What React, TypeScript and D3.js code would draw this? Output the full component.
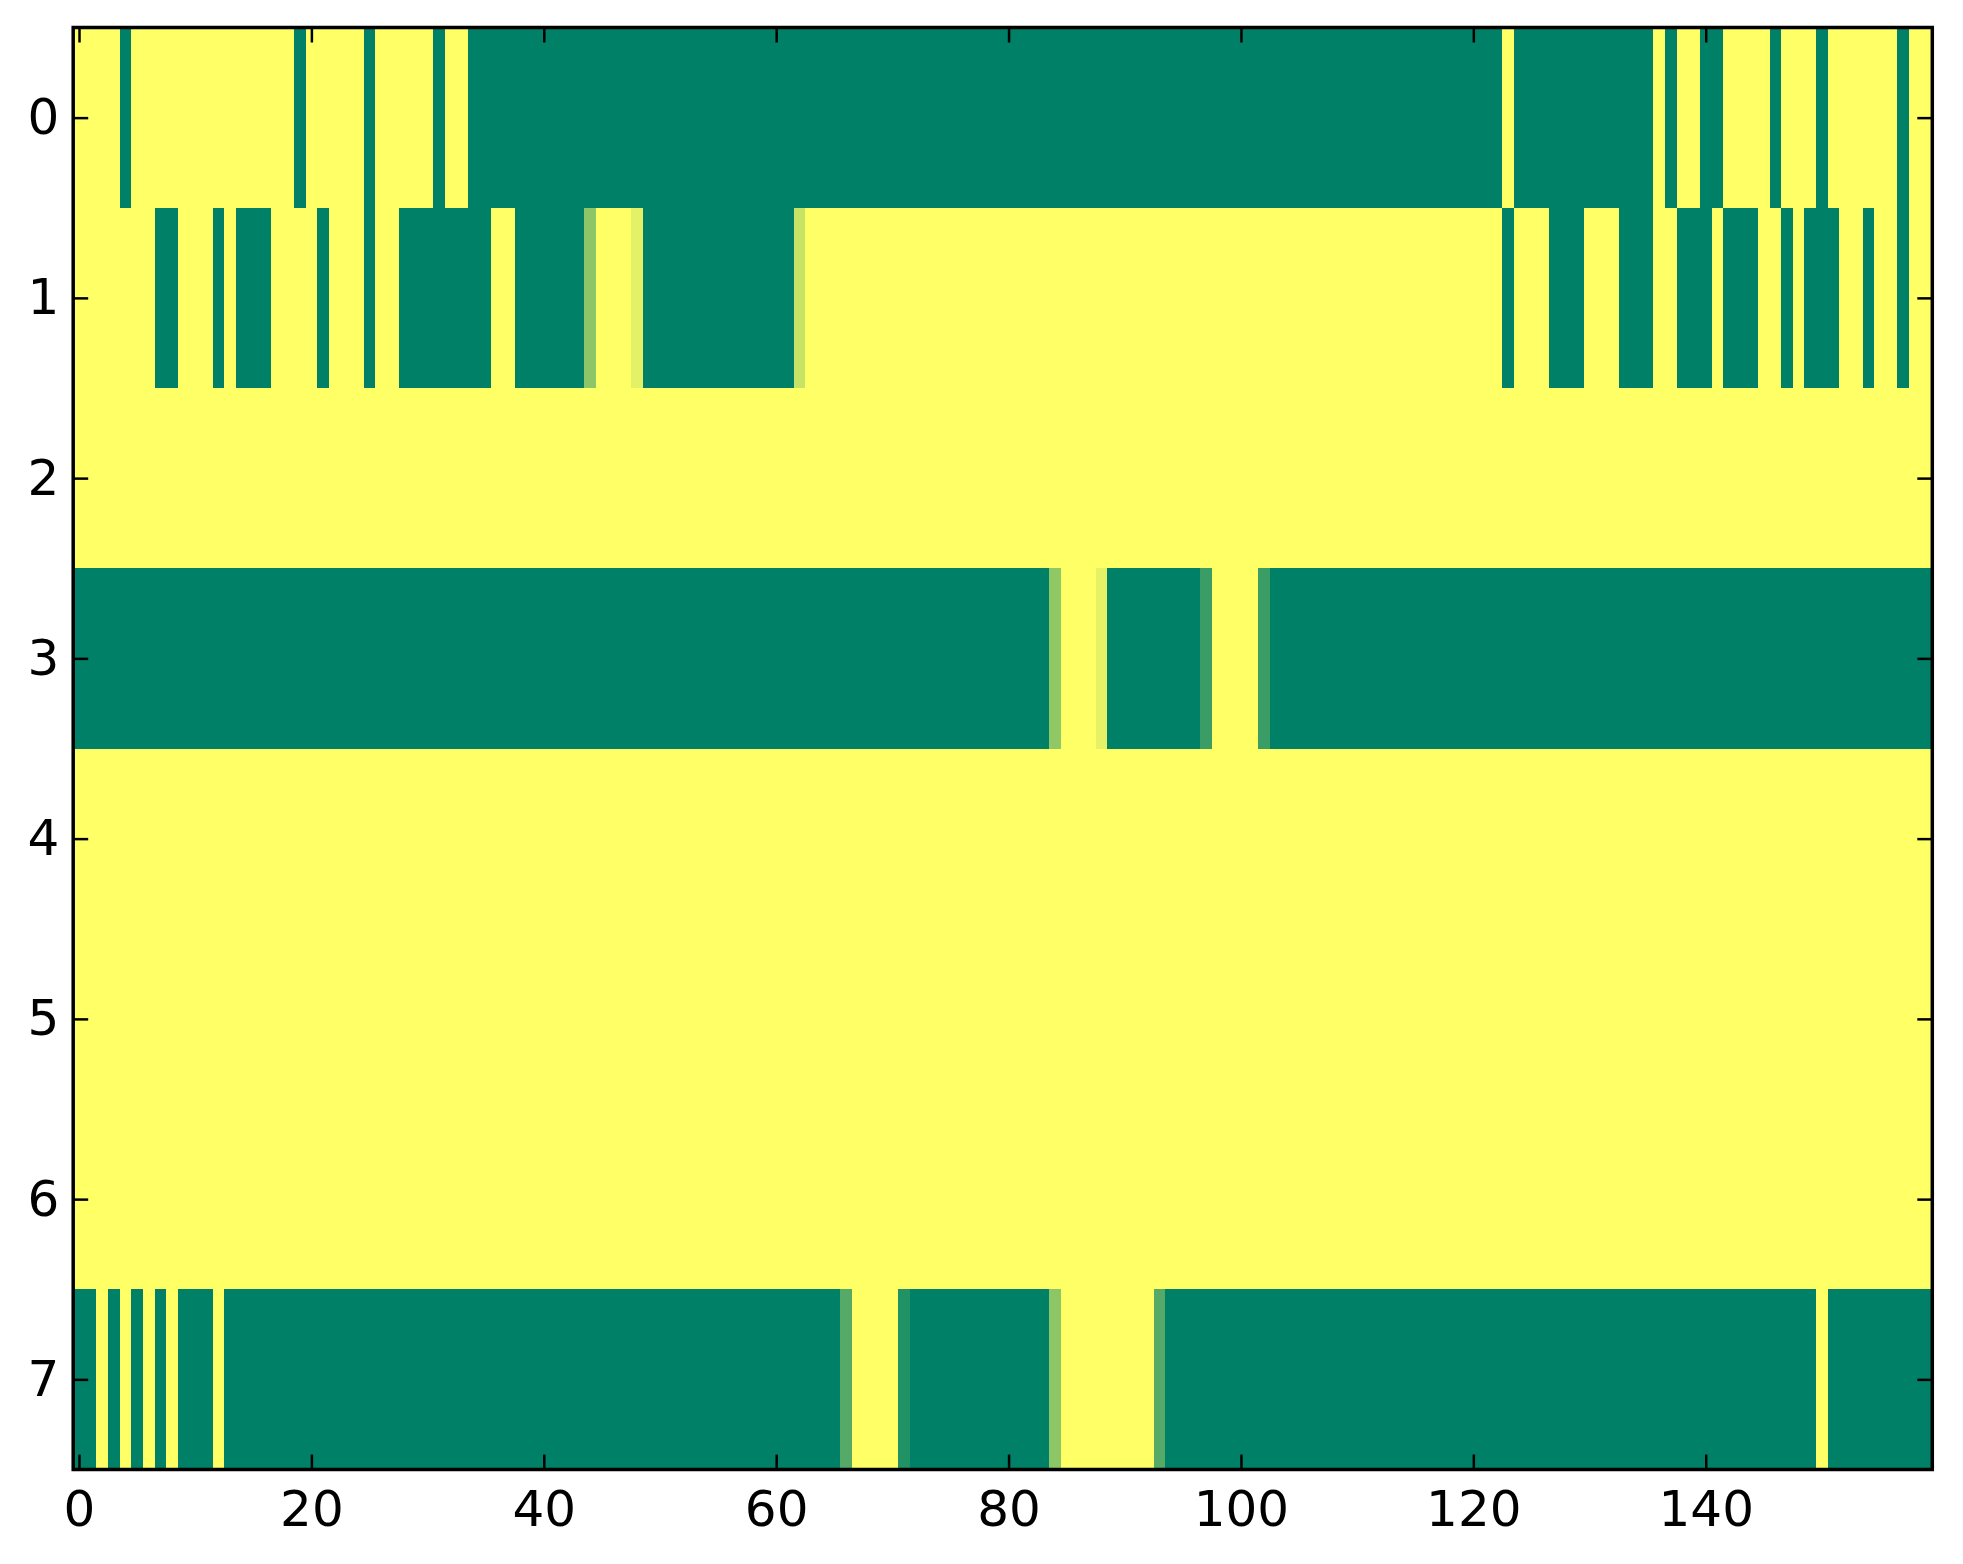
import * as React from 'react';
import * as d3 from 'd3';

// row / column labels on the axes
const rowTicks = [0, 1, 2, 3, 4, 5, 6, 7];
const colTicks = [0, 20, 40, 60, 80, 100, 120, 140];

// one array per image row, 160 columns each (0 = green end, 1 = yellow end)
const row0 = [
    1, 1, 1, 1, 0, 1, 1, 1, 1, 1, 1, 1, 1, 1, 1, 1, 1, 1, 1, 0,
    1, 1, 1, 1, 1, 0, 1, 1, 1, 1, 1, 0, 1, 1, 0, 0, 0, 0, 0, 0,
    0, 0, 0, 0, 0, 0, 0, 0, 0, 0, 0, 0, 0, 0, 0, 0, 0, 0, 0, 0,
    0, 0, 0, 0, 0, 0, 0, 0, 0, 0, 0, 0, 0, 0, 0, 0, 0, 0, 0, 0,
    0, 0, 0, 0, 0, 0, 0, 0, 0, 0, 0, 0, 0, 0, 0, 0, 0, 0, 0, 0,
    0, 0, 0, 0, 0, 0, 0, 0, 0, 0, 0, 0, 0, 0, 0, 0, 0, 0, 0, 0,
    0, 0, 0, 1, 0, 0, 0, 0, 0, 0, 0, 0, 0, 0, 0, 0, 1, 0, 1, 1,
    0, 0, 1, 1, 1, 1, 0, 1, 1, 1, 0, 1, 1, 1, 1, 1, 1, 0, 1, 1
];
const row1 = [
    1, 1, 1, 1, 1, 1, 1, 0, 0, 1, 1, 1, 0, 1, 0, 0, 0, 1, 1, 1,
    1, 0, 1, 1, 1, 0, 1, 1, 0, 0, 0, 0, 0, 0, 0, 0, 1, 1, 0, 0,
    0, 0, 0, 0, 0.55, 1, 1, 1, 0.89, 0, 0, 0, 0, 0, 0, 0, 0, 0, 0, 0,
    0, 0, 0.78, 1, 1, 1, 1, 1, 1, 1, 1, 1, 1, 1, 1, 1, 1, 1, 1, 1,
    1, 1, 1, 1, 1, 1, 1, 1, 1, 1, 1, 1, 1, 1, 1, 1, 1, 1, 1, 1,
    1, 1, 1, 1, 1, 1, 1, 1, 1, 1, 1, 1, 1, 1, 1, 1, 1, 1, 1, 1,
    1, 1, 1, 0, 1, 1, 1, 0, 0, 0, 1, 1, 1, 0, 0, 0, 1, 1, 0, 0,
    0, 1, 0, 0, 0, 1, 1, 0, 1, 0, 0, 0, 1, 1, 0, 1, 1, 0, 1, 1
];
const row2 = [
    1, 1, 1, 1, 1, 1, 1, 1, 1, 1, 1, 1, 1, 1, 1, 1, 1, 1, 1, 1,
    1, 1, 1, 1, 1, 1, 1, 1, 1, 1, 1, 1, 1, 1, 1, 1, 1, 1, 1, 1,
    1, 1, 1, 1, 1, 1, 1, 1, 1, 1, 1, 1, 1, 1, 1, 1, 1, 1, 1, 1,
    1, 1, 1, 1, 1, 1, 1, 1, 1, 1, 1, 1, 1, 1, 1, 1, 1, 1, 1, 1,
    1, 1, 1, 1, 1, 1, 1, 1, 1, 1, 1, 1, 1, 1, 1, 1, 1, 1, 1, 1,
    1, 1, 1, 1, 1, 1, 1, 1, 1, 1, 1, 1, 1, 1, 1, 1, 1, 1, 1, 1,
    1, 1, 1, 1, 1, 1, 1, 1, 1, 1, 1, 1, 1, 1, 1, 1, 1, 1, 1, 1,
    1, 1, 1, 1, 1, 1, 1, 1, 1, 1, 1, 1, 1, 1, 1, 1, 1, 1, 1, 1
];
const row3 = [
    0, 0, 0, 0, 0, 0, 0, 0, 0, 0, 0, 0, 0, 0, 0, 0, 0, 0, 0, 0,
    0, 0, 0, 0, 0, 0, 0, 0, 0, 0, 0, 0, 0, 0, 0, 0, 0, 0, 0, 0,
    0, 0, 0, 0, 0, 0, 0, 0, 0, 0, 0, 0, 0, 0, 0, 0, 0, 0, 0, 0,
    0, 0, 0, 0, 0, 0, 0, 0, 0, 0, 0, 0, 0, 0, 0, 0, 0, 0, 0, 0,
    0, 0, 0, 0, 0.57, 1, 1, 1, 0.9, 0, 0, 0, 0, 0, 0, 0, 0, 0.23, 1, 1,
    1, 1, 0.23, 0, 0, 0, 0, 0, 0, 0, 0, 0, 0, 0, 0, 0, 0, 0, 0, 0,
    0, 0, 0, 0, 0, 0, 0, 0, 0, 0, 0, 0, 0, 0, 0, 0, 0, 0, 0, 0,
    0, 0, 0, 0, 0, 0, 0, 0, 0, 0, 0, 0, 0, 0, 0, 0, 0, 0, 0, 0
];
const row4 = [
    1, 1, 1, 1, 1, 1, 1, 1, 1, 1, 1, 1, 1, 1, 1, 1, 1, 1, 1, 1,
    1, 1, 1, 1, 1, 1, 1, 1, 1, 1, 1, 1, 1, 1, 1, 1, 1, 1, 1, 1,
    1, 1, 1, 1, 1, 1, 1, 1, 1, 1, 1, 1, 1, 1, 1, 1, 1, 1, 1, 1,
    1, 1, 1, 1, 1, 1, 1, 1, 1, 1, 1, 1, 1, 1, 1, 1, 1, 1, 1, 1,
    1, 1, 1, 1, 1, 1, 1, 1, 1, 1, 1, 1, 1, 1, 1, 1, 1, 1, 1, 1,
    1, 1, 1, 1, 1, 1, 1, 1, 1, 1, 1, 1, 1, 1, 1, 1, 1, 1, 1, 1,
    1, 1, 1, 1, 1, 1, 1, 1, 1, 1, 1, 1, 1, 1, 1, 1, 1, 1, 1, 1,
    1, 1, 1, 1, 1, 1, 1, 1, 1, 1, 1, 1, 1, 1, 1, 1, 1, 1, 1, 1
];
const row5 = [
    1, 1, 1, 1, 1, 1, 1, 1, 1, 1, 1, 1, 1, 1, 1, 1, 1, 1, 1, 1,
    1, 1, 1, 1, 1, 1, 1, 1, 1, 1, 1, 1, 1, 1, 1, 1, 1, 1, 1, 1,
    1, 1, 1, 1, 1, 1, 1, 1, 1, 1, 1, 1, 1, 1, 1, 1, 1, 1, 1, 1,
    1, 1, 1, 1, 1, 1, 1, 1, 1, 1, 1, 1, 1, 1, 1, 1, 1, 1, 1, 1,
    1, 1, 1, 1, 1, 1, 1, 1, 1, 1, 1, 1, 1, 1, 1, 1, 1, 1, 1, 1,
    1, 1, 1, 1, 1, 1, 1, 1, 1, 1, 1, 1, 1, 1, 1, 1, 1, 1, 1, 1,
    1, 1, 1, 1, 1, 1, 1, 1, 1, 1, 1, 1, 1, 1, 1, 1, 1, 1, 1, 1,
    1, 1, 1, 1, 1, 1, 1, 1, 1, 1, 1, 1, 1, 1, 1, 1, 1, 1, 1, 1
];
const row6 = [
    1, 1, 1, 1, 1, 1, 1, 1, 1, 1, 1, 1, 1, 1, 1, 1, 1, 1, 1, 1,
    1, 1, 1, 1, 1, 1, 1, 1, 1, 1, 1, 1, 1, 1, 1, 1, 1, 1, 1, 1,
    1, 1, 1, 1, 1, 1, 1, 1, 1, 1, 1, 1, 1, 1, 1, 1, 1, 1, 1, 1,
    1, 1, 1, 1, 1, 1, 1, 1, 1, 1, 1, 1, 1, 1, 1, 1, 1, 1, 1, 1,
    1, 1, 1, 1, 1, 1, 1, 1, 1, 1, 1, 1, 1, 1, 1, 1, 1, 1, 1, 1,
    1, 1, 1, 1, 1, 1, 1, 1, 1, 1, 1, 1, 1, 1, 1, 1, 1, 1, 1, 1,
    1, 1, 1, 1, 1, 1, 1, 1, 1, 1, 1, 1, 1, 1, 1, 1, 1, 1, 1, 1,
    1, 1, 1, 1, 1, 1, 1, 1, 1, 1, 1, 1, 1, 1, 1, 1, 1, 1, 1, 1
];
const row7 = [
    0, 0, 1, 0, 1, 0, 1, 0, 1, 0, 0, 0, 1, 0, 0, 0, 0, 0, 0, 0,
    0, 0, 0, 0, 0, 0, 0, 0, 0, 0, 0, 0, 0, 0, 0, 0, 0, 0, 0, 0,
    0, 0, 0, 0, 0, 0, 0, 0, 0, 0, 0, 0, 0, 0, 0, 0, 0, 0, 0, 0,
    0, 0, 0, 0, 0, 0, 0.33, 1, 1, 1, 1, 0.13, 0, 0, 0, 0, 0, 0, 0, 0,
    0, 0, 0, 0, 0.55, 1, 1, 1, 1, 1, 1, 1, 1, 0.33, 0, 0, 0, 0, 0, 0,
    0, 0, 0, 0, 0, 0, 0, 0, 0, 0, 0, 0, 0, 0, 0, 0, 0, 0, 0, 0,
    0, 0, 0, 0, 0, 0, 0, 0, 0, 0, 0, 0, 0, 0, 0, 0, 0, 0, 0, 0,
    0, 0, 0, 0, 0, 0, 0, 0, 0, 0, 1, 0, 0, 0, 0, 0, 0, 0, 0, 0
];

const matrix = [row0, row1, row2, row3, row4, row5, row6, row7];

const config = {
    width: 1963,
    height: 1564,
    margin: {left: 73.2, right: 30.7, top: 27.5, bottom: 94.5},
    font: "'DejaVu Sans', sans-serif",
    fontSize: 50,
    tickLength: 15
};

class Heatmap extends React.Component<any, any> {
    componentDidMount() {
        this.createHeatmap();
    }

    componentDidUpdate(): void {
        this.createHeatmap();
    }

    createHeatmap() {
        d3.select(".heatmap svg").remove();
        let c = config;
        let nCols = matrix[0].length;
        let nRows = matrix.length;
        let x0 = c.margin.left, x1 = c.width - c.margin.right;
        let y0 = c.margin.top, y1 = c.height - c.margin.bottom;

        let xScale = d3.scaleLinear().domain([-0.5, nCols - 0.5]).range([x0, x1]);
        let yScale = d3.scaleLinear().domain([-0.5, nRows - 0.5]).range([y0, y1]);
        // matplotlib "summer": linear in RGB from (0, .5, .4) to (1, 1, .4)
        let color = d3.scaleLinear<string>()
            .domain([0, 1])
            .range(["#008066", "#ffff66"])
            .interpolate(d3.interpolateRgb);

        let svg = d3.select(".heatmap")
            .append("svg")
            .attr("width", c.width)
            .attr("height", c.height)
            .style("display", "block");

        let cells: {r: number, c: number, v: number}[] = [];
        matrix.forEach((row, r) => row.forEach((v, ci) => cells.push({r: r, c: ci, v: v})));

        let cw = xScale(1) - xScale(0);
        let ch = yScale(1) - yScale(0);
        svg.append("g")
            .attr("shape-rendering", "crispEdges")
            .selectAll(".cell")
            .data(cells)
            .enter()
            .append("rect")
            .attr("class", "cell")
            .attr("x", d => xScale(d.c - 0.5))
            .attr("y", d => yScale(d.r - 0.5))
            .attr("width", d => Math.min(cw + 0.6, x1 - xScale(d.c - 0.5)))
            .attr("height", d => Math.min(ch + 0.6, y1 - yScale(d.r - 0.5)))
            .attr("fill", d => color(d.v));

        let styleAxis = (g, labels: boolean) => {
            g.select(".domain").remove();
            g.selectAll(".tick line").attr("stroke", "#000").attr("stroke-width", 2.5);
            g.selectAll(".tick text")
                .style("font-family", c.font)
                .style("font-size", c.fontSize + "px")
                .attr("fill", "#000");
            if (!labels) g.selectAll(".tick text").remove();
        };

        svg.append("g")
            .attr("transform", "translate(0," + y1 + ")")
            .call(d3.axisBottom(xScale).tickValues(colTicks).tickSizeInner(-c.tickLength).tickSizeOuter(0).tickPadding(21))
            .call(g => styleAxis(g, true));
        svg.append("g")
            .attr("transform", "translate(0," + y0 + ")")
            .call(d3.axisTop(xScale).tickValues(colTicks).tickSizeInner(-c.tickLength).tickSizeOuter(0))
            .call(g => styleAxis(g, false));
        svg.append("g")
            .attr("transform", "translate(" + x0 + ",0)")
            .call(d3.axisLeft(yScale).tickValues(rowTicks).tickSizeInner(-c.tickLength).tickSizeOuter(0).tickPadding(14))
            .call(g => styleAxis(g, true));
        svg.append("g")
            .attr("transform", "translate(" + x1 + ",0)")
            .call(d3.axisRight(yScale).tickValues(rowTicks).tickSizeInner(-c.tickLength).tickSizeOuter(0))
            .call(g => styleAxis(g, false));

        svg.append("rect")
            .attr("x", x0)
            .attr("y", y0)
            .attr("width", x1 - x0)
            .attr("height", y1 - y0)
            .attr("fill", "none")
            .attr("stroke", "#000")
            .attr("stroke-width", 3.5);
    }

    render() {
        return (
            <div className="heatmap" style={{position: "absolute", left: 0, top: 0}}>
            </div>
        );
    }
}

export default function App() {
    return <Heatmap/>;
}
